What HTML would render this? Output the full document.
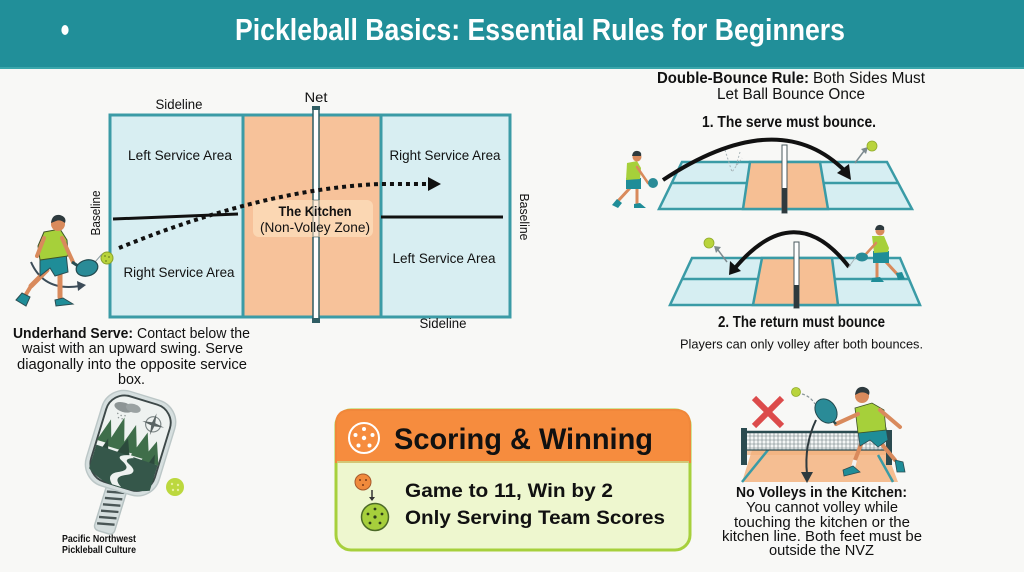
<!DOCTYPE html>
<html>
<head>
<meta charset="utf-8">
<style>
html,body{margin:0;padding:0;background:#f8f8f6;}
svg{display:block;}
text{font-family:"Liberation Sans Narrow","Liberation Sans",sans-serif;fill:#111;}
.b{font-weight:bold;}
</style>
</head>
<body>
<svg width="1024" height="572" viewBox="0 0 1024 572" xmlns="http://www.w3.org/2000/svg">
<rect x="0" y="0" width="1024" height="572" fill="#f8f8f6"/>

<!-- Header -->
<rect x="0" y="0" width="1024" height="69" fill="#218f99"/>
<rect x="0" y="67" width="1024" height="2" fill="#3aa6ab"/>
<ellipse cx="65" cy="30" rx="3.6" ry="5" fill="#fff"/>
<text x="235" y="40" class="b" font-size="31" textLength="610" lengthAdjust="spacingAndGlyphs" style="fill:#fff">Pickleball Basics: Essential Rules for Beginners</text>

<!-- Main court -->
<rect x="110" y="115" width="133" height="202" fill="#d8eef2" stroke="#3b9ba6" stroke-width="3"/>
<rect x="381" y="115" width="129" height="202" fill="#d8eef2" stroke="#3b9ba6" stroke-width="3"/>
<rect x="243" y="115" width="138" height="202" fill="#f7c29a" stroke="#3b9ba6" stroke-width="3"/>
<line x1="113" y1="219" x2="238" y2="214" stroke="#111" stroke-width="3"/>
<line x1="381" y1="217" x2="503" y2="217" stroke="#111" stroke-width="3"/>
<rect x="313" y="108" width="6" height="214" fill="#fff" stroke="#2f5d63" stroke-width="1.5"/>
<rect x="312" y="106" width="8" height="4" fill="#2f5d63"/>
<rect x="312" y="318" width="8" height="5" fill="#2f5d63"/>
<rect x="253" y="200" width="120" height="37" rx="6" fill="#fbd7b3"/>
<rect x="313" y="200" width="6" height="37" fill="#fff" stroke="#2f5d63" stroke-width="1.2" opacity="0.5"/>

<text x="179" y="109" font-size="14" text-anchor="middle" textLength="47" lengthAdjust="spacingAndGlyphs">Sideline</text>
<text x="316" y="102" font-size="14" text-anchor="middle" textLength="23" lengthAdjust="spacingAndGlyphs">Net</text>
<text x="180" y="160" font-size="14" text-anchor="middle" textLength="104" lengthAdjust="spacingAndGlyphs">Left Service Area</text>
<text x="445" y="160" font-size="14" text-anchor="middle" textLength="111" lengthAdjust="spacingAndGlyphs">Right Service Area</text>
<text x="179" y="277" font-size="14" text-anchor="middle" textLength="111" lengthAdjust="spacingAndGlyphs">Right Service Area</text>
<text x="444" y="263" font-size="14" text-anchor="middle" textLength="103" lengthAdjust="spacingAndGlyphs">Left Service Area</text>
<text x="315" y="216" font-size="14" class="b" text-anchor="middle" textLength="73" lengthAdjust="spacingAndGlyphs">The Kitchen</text>
<text x="315" y="232" font-size="14" text-anchor="middle" textLength="110" lengthAdjust="spacingAndGlyphs">(Non-Volley Zone)</text>
<text x="443" y="328" font-size="14" text-anchor="middle" textLength="47" lengthAdjust="spacingAndGlyphs">Sideline</text>
<g transform="translate(95,213) rotate(-90)"><text x="0" y="5" font-size="13" text-anchor="middle" textLength="45" lengthAdjust="spacingAndGlyphs">Baseline</text></g>
<g transform="translate(525,217) rotate(90)"><text x="0" y="5" font-size="13" text-anchor="middle" textLength="47" lengthAdjust="spacingAndGlyphs">Baseline</text></g>

<!-- dotted serve arrow -->
<path d="M119,248 C200,215 290,188 380,184 L428,184" fill="none" stroke="#111" stroke-width="4" stroke-dasharray="4 4"/>
<polygon points="428,177 441,184 428,191" fill="#111"/>
<circle cx="107" cy="258" r="6" fill="#b9d43c" stroke="#8aa22a" stroke-width="1"/>
<circle cx="105" cy="256" r="0.9" fill="#6d8420"/><circle cx="109" cy="257" r="0.9" fill="#6d8420"/><circle cx="106" cy="261" r="0.9" fill="#6d8420"/>

<!-- left player -->
<g>
<line x1="95" y1="262" x2="102" y2="254" stroke="#8a9aa0" stroke-width="1"/>
<path d="M31,262 Q44,292 80,286" fill="none" stroke="#3c4c58" stroke-width="2"/>
<polygon points="77,281 86,285 78,291" fill="#3c4c58"/>
<line x1="47" y1="270" x2="31" y2="286" stroke="#d98a5c" stroke-width="5" stroke-linecap="round"/>
<line x1="31" y1="286" x2="25" y2="296" stroke="#d98a5c" stroke-width="4" stroke-linecap="round"/>
<line x1="60" y1="272" x2="60" y2="297" stroke="#d98a5c" stroke-width="5" stroke-linecap="round"/>
<path d="M16,300 L22,293 L30,297 L26,306 Z" fill="#1f8d98" stroke="#2b4d52" stroke-width="1"/>
<path d="M55,300 L63,298 L73,304 L56,306 Z" fill="#1f8d98" stroke="#2b4d52" stroke-width="1"/>
<path d="M40,256 L66,253 L68,272 L55,276 L50,268 L40,276 Z" fill="#1f8d98" stroke="#2b4d52" stroke-width="1"/>
<path d="M44,232 L60,229 L67,240 L68,256 L40,260 L38,246 Z" fill="#a6d03a" stroke="#3f5228" stroke-width="1"/>
<line x1="44" y1="238" x2="37" y2="256" stroke="#d98a5c" stroke-width="4" stroke-linecap="round"/>
<line x1="62" y1="238" x2="73" y2="262" stroke="#d98a5c" stroke-width="4" stroke-linecap="round"/>
<circle cx="58" cy="224" r="7" fill="#d98a5c"/>
<path d="M51,223 Q52,214 60,215 Q67,217 65,223 Q60,219 56,221 Z" fill="#2e3a3e"/>
<line x1="72" y1="262" x2="78" y2="266" stroke="#2b4d52" stroke-width="3"/>
<ellipse cx="87" cy="268" rx="11" ry="8" transform="rotate(-15 87 268)" fill="#2a8b97" stroke="#22484d" stroke-width="1.2"/>
</g>

<!-- Underhand Serve text -->
<text x="13" y="338" font-size="15" class="b" textLength="120" lengthAdjust="spacingAndGlyphs">Underhand Serve:</text>
<text x="137" y="338" font-size="15" textLength="113" lengthAdjust="spacingAndGlyphs">Contact below the</text>
<text x="22" y="353" font-size="15" textLength="221" lengthAdjust="spacingAndGlyphs">waist with an upward swing. Serve</text>
<text x="17" y="369" font-size="15" textLength="230" lengthAdjust="spacingAndGlyphs">diagonally into the opposite service</text>
<text x="118" y="384" font-size="15" textLength="27" lengthAdjust="spacingAndGlyphs">box.</text>

<!-- PNW paddle -->
<g transform="translate(130,445) rotate(17) scale(0.95)">
<rect x="-11" y="44" width="22" height="52" rx="5" fill="#d5dede" stroke="#b6c2c2" stroke-width="1.5"/>
<g stroke="#4a5656" stroke-width="2.5">
<line x1="-9" y1="54" x2="9" y2="50"/><line x1="-9" y1="61" x2="9" y2="57"/><line x1="-9" y1="68" x2="9" y2="64"/><line x1="-9" y1="75" x2="9" y2="71"/><line x1="-9" y1="82" x2="9" y2="78"/><line x1="-9" y1="89" x2="9" y2="85"/>
</g>
<rect x="-40" y="-54" width="80" height="104" rx="24" fill="#d6dfdf" stroke="#bcc7c7" stroke-width="1.5"/>
<rect x="-35" y="-49" width="70" height="94" rx="20" fill="#eef2f0" stroke="#3d4848" stroke-width="2"/>
<ellipse cx="-18" cy="-36" rx="10" ry="5" fill="#8d9595"/>
<ellipse cx="-8" cy="-38" rx="8" ry="4.5" fill="#9aa2a2"/>
<g fill="#8d9595"><circle cx="-22" cy="-28" r="0.8"/><circle cx="-18" cy="-27" r="0.8"/><circle cx="-14" cy="-28" r="0.8"/><circle cx="-20" cy="-24" r="0.8"/><circle cx="-16" cy="-24" r="0.8"/></g>
<circle cx="17" cy="-28" r="8" fill="none" stroke="#7a8484" stroke-width="1.2"/>
<path d="M17,-40 L19,-28 L17,-16 L15,-28 Z M5,-28 L17,-30 L29,-28 L17,-26 Z" fill="#5a6464"/>
<path d="M-35,5 L-27,-20 L-19,5 Z M-24,8 L-14,-26 L-4,8 Z M-10,8 L0,-22 L10,8 Z M4,10 L14,-18 L24,10 Z M16,12 L26,-12 L35,12 Z" fill="#3f6e4a"/>
<path d="M-33,30 L-24,0 L-15,30 Z M18,30 L28,2 L35,30 Z M-12,14 L-4,-6 L4,14 Z" fill="#2c4a3c"/>
<path d="M-34,10 L34,12 L34,40 Q20,46 0,46 Q-20,46 -34,36 Z" fill="#35574a"/>
<path d="M-6,45 Q-16,36 -2,30 Q10,24 -4,18 Q-12,14 4,10 L8,12 Q-4,16 6,20 Q18,26 4,32 Q-8,38 4,45 Z" fill="#eef2f0"/>
</g>
<circle cx="175" cy="487" r="9" fill="#bcd83e"/>
<g fill="#e6f0a0"><circle cx="172" cy="484" r="1.2"/><circle cx="178" cy="485" r="1.2"/><circle cx="173" cy="490" r="1.2"/><circle cx="178" cy="490" r="1.2"/></g>
<text x="99" y="542" font-size="10" class="b" text-anchor="middle" textLength="74" lengthAdjust="spacingAndGlyphs">Pacific Northwest</text>
<text x="99" y="553" font-size="10" class="b" text-anchor="middle" textLength="74" lengthAdjust="spacingAndGlyphs">Pickleball Culture</text>

<!-- Double bounce -->
<text x="657" y="83" font-size="15.5" class="b" textLength="152" lengthAdjust="spacingAndGlyphs">Double-Bounce Rule:</text>
<text x="813" y="83" font-size="15.5" textLength="112" lengthAdjust="spacingAndGlyphs">Both Sides Must</text>
<text x="717" y="99" font-size="15.5" textLength="148" lengthAdjust="spacingAndGlyphs">Let Ball Bounce Once</text>
<text x="702" y="127" font-size="16" class="b" textLength="174" lengthAdjust="spacingAndGlyphs">1. The serve must bounce.</text>

<!-- court 1 -->
<polygon points="682,162 887,162 912,209 659,209" fill="#d6eef2" stroke="#3a9ba6" stroke-width="2.5"/>
<polygon points="750,162 820,162 828,209 743,209" fill="#f6bf94" stroke="#3a9ba6" stroke-width="2.5"/>
<line x1="672" y1="183" x2="747" y2="183" stroke="#3a9ba6" stroke-width="2.5"/>
<line x1="824" y1="183" x2="898" y2="183" stroke="#3a9ba6" stroke-width="2.5"/>
<rect x="782" y="145" width="5" height="68" fill="#fff" stroke="#4a5a5e" stroke-width="1"/>
<rect x="782" y="188" width="5" height="25" fill="#2e3a3e"/>
<path d="M725,150 L732,172 L742,158 M740,152 L736,166" fill="none" stroke="#a8b4b8" stroke-width="1" stroke-dasharray="2 2"/>
<path d="M663,180 Q778,104 845,171" fill="none" stroke="#111" stroke-width="4"/>
<polygon points="837,173 851,180 849,164" fill="#111"/>
<line x1="855" y1="163" x2="864" y2="151" stroke="#7d8a8f" stroke-width="1.5"/>
<polygon points="861,149 868,147 866,154" fill="#7d8a8f"/>
<circle cx="872" cy="146" r="5" fill="#b9d43c" stroke="#90aa2c" stroke-width="0.8"/>
<!-- player 1 -->
<line x1="630" y1="188" x2="618" y2="201" stroke="#d98a5c" stroke-width="3" stroke-linecap="round"/>
<line x1="637" y1="189" x2="637" y2="204" stroke="#d98a5c" stroke-width="3" stroke-linecap="round"/>
<path d="M612,205 L617,199 L622,203 L618,208 Z" fill="#1f8d98"/>
<path d="M634,204 L640,203 L646,208 L634,208 Z" fill="#1f8d98"/>
<rect x="626" y="178" width="15" height="11" fill="#1f8d98"/>
<path d="M627,163 L637,161 L641,168 L640,179 L626,180 Z" fill="#a6d03a"/>
<line x1="637" y1="167" x2="648" y2="183" stroke="#d98a5c" stroke-width="2.5" stroke-linecap="round"/>
<circle cx="653" cy="183" r="5" fill="#2a8b97"/>
<circle cx="637" cy="157" r="4.5" fill="#d98a5c"/>
<path d="M632,156 Q633,150 638,151 Q642,152 641,156 Z" fill="#2e3a3e"/>

<!-- court 2 -->
<polygon points="692,258 900,258 920,305 670,305" fill="#d6eef2" stroke="#3a9ba6" stroke-width="2.5"/>
<polygon points="762,258 832,258 838,305 753,305" fill="#f6bf94" stroke="#3a9ba6" stroke-width="2.5"/>
<line x1="682" y1="279" x2="758" y2="279" stroke="#3a9ba6" stroke-width="2.5"/>
<line x1="835" y1="279" x2="909" y2="279" stroke="#3a9ba6" stroke-width="2.5"/>
<rect x="794" y="242" width="5" height="66" fill="#fff" stroke="#4a5a5e" stroke-width="1"/>
<rect x="794" y="285" width="5" height="23" fill="#2e3a3e"/>
<path d="M849,267 Q795,197 735,268" fill="none" stroke="#111" stroke-width="4"/>
<polygon points="729,275 741,271 730,261" fill="#111"/>
<path d="M848,268 L858,254" fill="none" stroke="#a8b4b8" stroke-width="1"/>
<line x1="727" y1="262" x2="718" y2="250" stroke="#7d8a8f" stroke-width="1.5"/>
<polygon points="714,246 721,247 716,253" fill="#7d8a8f"/>
<circle cx="709" cy="243" r="5" fill="#b9d43c" stroke="#90aa2c" stroke-width="0.8"/>
<!-- player 2 -->
<line x1="877" y1="262" x2="877" y2="278" stroke="#d98a5c" stroke-width="3" stroke-linecap="round"/>
<line x1="886" y1="262" x2="898" y2="275" stroke="#d98a5c" stroke-width="3" stroke-linecap="round"/>
<path d="M872,278 L880,277 L884,282 L871,282 Z" fill="#1f8d98"/>
<path d="M896,273 L902,272 L905,279 L898,280 Z" fill="#1f8d98"/>
<rect x="873" y="251" width="16" height="12" fill="#1f8d98"/>
<path d="M872,236 L884,236 L889,248 L888,252 L874,253 Z" fill="#a6d03a"/>
<line x1="876" y1="243" x2="866" y2="254" stroke="#d98a5c" stroke-width="2.5" stroke-linecap="round"/>
<ellipse cx="862" cy="257" rx="6" ry="4.5" fill="#2a8b97"/>
<circle cx="880" cy="231" r="4.5" fill="#d98a5c"/>
<path d="M875,230 Q876,224 881,225 Q885,226 884,230 Z" fill="#2e3a3e"/>

<text x="718" y="327" font-size="16" class="b" textLength="167" lengthAdjust="spacingAndGlyphs">2. The return must bounce</text>
<text x="680" y="348.5" font-size="13" textLength="243" lengthAdjust="spacingAndGlyphs">Players can only volley after both bounces.</text>

<!-- Scoring box -->
<rect x="336" y="410" width="354" height="140" rx="15" fill="#eef7cf" stroke="#a7d03c" stroke-width="3"/>
<path d="M336,462 L336,425 Q336,410 351,410 L675,410 Q690,410 690,425 L690,462 Z" fill="#f68c3e" stroke="#f1873a" stroke-width="2"/>
<line x1="337" y1="462" x2="689" y2="462" stroke="#c9dd8a" stroke-width="1.5"/>
<circle cx="364" cy="438" r="15" fill="none" stroke="#fff" stroke-width="2"/>
<g fill="#fff"><circle cx="364" cy="438" r="2.2"/><circle cx="364" cy="429" r="2"/><circle cx="372.5" cy="435" r="2"/><circle cx="369.5" cy="445.5" r="2"/><circle cx="358.5" cy="445.5" r="2"/><circle cx="355.5" cy="435" r="2"/></g>
<text x="394" y="449" font-size="30" class="b" textLength="259" lengthAdjust="spacingAndGlyphs">Scoring &amp; Winning</text>
<circle cx="363" cy="482" r="8" fill="#f08a3c" stroke="#a5592c" stroke-width="1"/>
<g fill="#7a3a1a"><circle cx="360" cy="480" r="1"/><circle cx="366" cy="480" r="1"/><circle cx="363" cy="485" r="1"/></g>
<line x1="372" y1="490" x2="372" y2="498" stroke="#333" stroke-width="1.5"/>
<polygon points="369,497 375,497 372,501" fill="#333"/>
<circle cx="375" cy="517" r="13.5" fill="#a6cf3c" stroke="#4c6a28" stroke-width="1.5"/>
<g fill="#2d3d1a"><circle cx="375" cy="517" r="1.6"/><circle cx="375" cy="509" r="1.4"/><circle cx="382" cy="514" r="1.4"/><circle cx="380" cy="523" r="1.4"/><circle cx="370" cy="523" r="1.4"/><circle cx="368" cy="514" r="1.4"/></g>
<text x="405" y="497" font-size="19" class="b" textLength="208" lengthAdjust="spacingAndGlyphs">Game to 11, Win by 2</text>
<text x="405" y="524" font-size="19" class="b" textLength="260" lengthAdjust="spacingAndGlyphs">Only Serving Team Scores</text>

<!-- No volleys illustration -->
<polygon points="742,482 898,482 886,450 752,450" fill="#f5be92"/>
<rect x="746" y="448" width="141" height="7" fill="#f2b07e" opacity="0.7"/>
<line x1="742" y1="482" x2="772" y2="445" stroke="#3a9ba6" stroke-width="2.5"/>
<line x1="893" y1="482" x2="878" y2="455" stroke="#3a9ba6" stroke-width="2.5"/>
<rect x="746" y="432" width="141" height="18" fill="#f4f6f6"/>
<g stroke="#6e7c80" stroke-width="0.6">
<line x1="746" y1="436" x2="887" y2="436"/><line x1="746" y1="440" x2="887" y2="440"/><line x1="746" y1="444" x2="887" y2="444"/><line x1="746" y1="448" x2="887" y2="448"/>
</g>
<g stroke="#6e7c80" stroke-width="0.6">
<line x1="750" y1="432" x2="750" y2="450"/><line x1="754" y1="432" x2="754" y2="450"/><line x1="758" y1="432" x2="758" y2="450"/><line x1="762" y1="432" x2="762" y2="450"/><line x1="766" y1="432" x2="766" y2="450"/><line x1="770" y1="432" x2="770" y2="450"/><line x1="774" y1="432" x2="774" y2="450"/><line x1="778" y1="432" x2="778" y2="450"/><line x1="782" y1="432" x2="782" y2="450"/><line x1="786" y1="432" x2="786" y2="450"/><line x1="790" y1="432" x2="790" y2="450"/><line x1="794" y1="432" x2="794" y2="450"/><line x1="798" y1="432" x2="798" y2="450"/><line x1="802" y1="432" x2="802" y2="450"/><line x1="806" y1="432" x2="806" y2="450"/><line x1="810" y1="432" x2="810" y2="450"/><line x1="814" y1="432" x2="814" y2="450"/><line x1="818" y1="432" x2="818" y2="450"/><line x1="822" y1="432" x2="822" y2="450"/><line x1="826" y1="432" x2="826" y2="450"/><line x1="830" y1="432" x2="830" y2="450"/><line x1="834" y1="432" x2="834" y2="450"/><line x1="838" y1="432" x2="838" y2="450"/><line x1="842" y1="432" x2="842" y2="450"/><line x1="846" y1="432" x2="846" y2="450"/><line x1="850" y1="432" x2="850" y2="450"/><line x1="854" y1="432" x2="854" y2="450"/><line x1="858" y1="432" x2="858" y2="450"/><line x1="862" y1="432" x2="862" y2="450"/><line x1="866" y1="432" x2="866" y2="450"/><line x1="870" y1="432" x2="870" y2="450"/><line x1="874" y1="432" x2="874" y2="450"/><line x1="878" y1="432" x2="878" y2="450"/><line x1="882" y1="432" x2="882" y2="450"/>
</g>
<line x1="746" y1="432" x2="887" y2="432" stroke="#2b4b50" stroke-width="2.5"/>
<line x1="746" y1="450" x2="887" y2="450" stroke="#2b4b50" stroke-width="1.2"/>
<rect x="741" y="428" width="6" height="37" fill="#2b4b50"/>
<rect x="886" y="430" width="6" height="35" fill="#2b4b50"/>
<line x1="754" y1="398" x2="782" y2="426" stroke="#dc4b4b" stroke-width="6"/>
<line x1="782" y1="398" x2="754" y2="426" stroke="#dc4b4b" stroke-width="6"/>
<circle cx="796" cy="392" r="4.5" fill="#b9d43c" stroke="#90aa2c" stroke-width="0.8"/>
<path d="M802,394 Q810,396 815,404" fill="none" stroke="#8a969a" stroke-width="1.2" stroke-dasharray="3 2"/>
<path d="M816,420 Q804,445 807,474" fill="none" stroke="#2e3a3e" stroke-width="2"/>
<polygon points="801,472 813,472 807,483" fill="#2e3a3e"/>
<!-- player -->
<line x1="862" y1="442" x2="855" y2="460" stroke="#d98a5c" stroke-width="4" stroke-linecap="round"/>
<line x1="855" y1="460" x2="853" y2="468" stroke="#f2f2f2" stroke-width="4"/>
<path d="M843,470 L853,466 L860,472 L844,476 Z" fill="#1f8d98" stroke="#2b4d52" stroke-width="0.8"/>
<line x1="880" y1="442" x2="895" y2="460" stroke="#d98a5c" stroke-width="4" stroke-linecap="round"/>
<path d="M895,460 L903,462 L905,472 L897,472 Z" fill="#1f8d98" stroke="#2b4d52" stroke-width="0.8"/>
<path d="M858,431 L886,428 L888,440 L878,447 L870,440 L860,446 Z" fill="#1f8d98" stroke="#2b4d52" stroke-width="0.8"/>
<path d="M855,408 L872,403 L884,410 L886,430 L858,433 Z" fill="#a6d03a" stroke="#3f5228" stroke-width="0.8"/>
<line x1="880" y1="410" x2="900" y2="427" stroke="#d98a5c" stroke-width="4" stroke-linecap="round"/>
<line x1="858" y1="414" x2="836" y2="424" stroke="#d98a5c" stroke-width="4" stroke-linecap="round"/>
<line x1="836" y1="424" x2="830" y2="418" stroke="#2b4d52" stroke-width="2.5"/>
<ellipse cx="826" cy="411" rx="10" ry="13" transform="rotate(-35 826 411)" fill="#2a8b97" stroke="#22484d" stroke-width="1"/>
<circle cx="862" cy="396" r="7" fill="#d98a5c"/>
<path d="M855,395 Q856,386 864,387 Q871,389 869,395 Q864,391 859,393 Z" fill="#2e3a3e"/>

<text x="736" y="497" font-size="15" class="b" textLength="171" lengthAdjust="spacingAndGlyphs">No Volleys in the Kitchen:</text>
<text x="746" y="512" font-size="15" textLength="152" lengthAdjust="spacingAndGlyphs">You cannot volley while</text>
<text x="734" y="527" font-size="15" textLength="176" lengthAdjust="spacingAndGlyphs">touching the kitchen or the</text>
<text x="722" y="541" font-size="15" textLength="200" lengthAdjust="spacingAndGlyphs">kitchen line. Both feet must be</text>
<text x="769" y="555" font-size="15" textLength="105" lengthAdjust="spacingAndGlyphs">outside the NVZ</text>
</svg>
</body>
</html>
